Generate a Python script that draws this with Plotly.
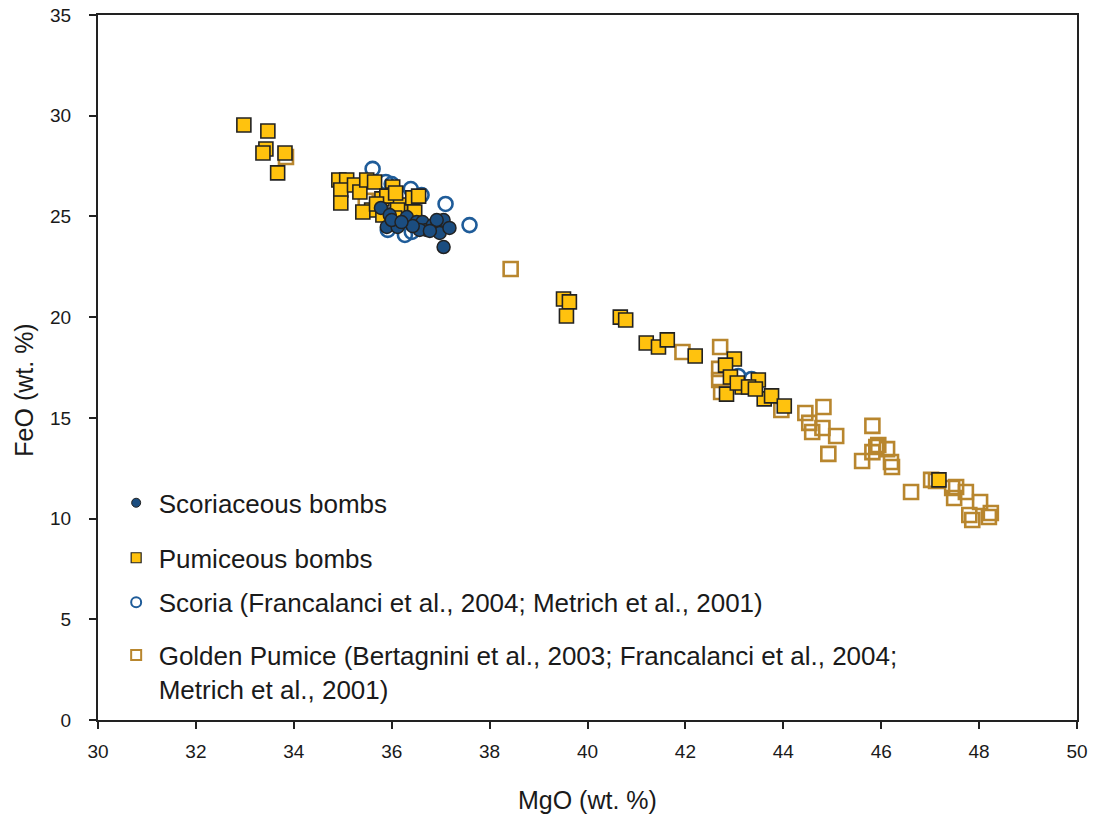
import plotly.graph_objects as go

# MgO / FeO (wt. %) for each sample population
scoriaceous_mgo = [35.78, 35.96, 35.90, 36.12, 36.00, 36.31, 36.51, 36.63, 36.71, 36.84,
                   36.98, 37.06, 37.18, 37.06, 36.57, 36.43, 36.20, 36.92, 36.78]
scoriaceous_feo = [25.42, 25.07, 24.48, 24.48, 24.82, 24.97, 24.72, 24.72, 24.33, 24.57,
                   24.18, 24.82, 24.43, 23.48, 24.33, 24.52, 24.72, 24.82, 24.28]

pumiceous_mgo = [32.98, 33.47, 33.43, 33.37, 33.82, 33.67,
                 34.92, 35.08, 34.96, 34.96, 35.24, 35.35, 35.49, 35.65, 36.02, 36.02,
                 35.80, 35.90, 36.18, 36.43, 36.55, 35.59, 35.82, 36.12, 36.47, 36.06,
                 35.41, 35.69, 36.08,
                 39.51, 39.63, 39.57, 40.67, 40.78, 41.20, 41.45, 41.63, 42.20, 43.00,
                 42.82, 42.92, 42.84, 43.16, 43.49, 43.61, 43.76, 44.02, 43.06, 43.29,
                 43.43, 47.18]
pumiceous_feo = [29.54, 29.24, 28.35, 28.15, 28.15, 27.16,
                 26.81, 26.81, 26.31, 25.67, 26.56, 26.21, 26.81, 26.71, 26.46, 26.06,
                 25.87, 26.01, 25.57, 25.92, 26.01, 25.32, 25.07, 25.32, 25.22, 24.92,
                 25.22, 25.62, 26.16,
                 20.90, 20.76, 20.06, 20.00, 19.86, 18.72, 18.52, 18.87, 18.07, 17.92,
                 17.62, 17.03, 16.18, 16.53, 16.88, 15.94, 16.09, 15.59, 16.73, 16.53,
                 16.43, 11.92]

scoria_mgo = [35.61, 35.88, 36.00, 36.39, 36.61, 37.10, 37.59, 36.27, 35.92, 36.41,
              43.08, 43.35]
scoria_feo = [27.36, 26.71, 26.61, 26.36, 26.06, 25.62, 24.57, 24.08, 24.33, 24.23,
              17.08, 16.93]

golden_mgo = [33.84, 35.47, 38.43, 41.94, 42.71, 42.69, 42.69, 42.73, 43.96, 44.45,
              44.82, 44.53, 44.59, 44.80, 45.08, 44.92, 45.82, 45.90, 45.94, 45.82,
              45.61, 46.12, 46.20, 46.22, 46.61, 47.02, 47.12, 47.53, 47.45, 47.49,
              47.73, 48.02, 47.80, 47.86, 48.24, 48.20]
golden_feo = [27.95, 25.77, 22.39, 18.27, 18.52, 17.43, 16.88, 16.28, 15.39, 15.24,
              15.54, 14.75, 14.30, 14.50, 14.10, 13.21, 14.60, 13.55, 13.65, 13.30,
              12.86, 13.45, 12.81, 12.56, 11.32, 11.92, 11.87, 11.57, 11.52, 11.02,
              11.32, 10.82, 10.18, 9.93, 10.28, 10.08]

x_ticks = [30, 32, 34, 36, 38, 40, 42, 44, 46, 48, 50]
y_ticks = [0, 5, 10, 15, 20, 25, 30, 35]

names = ["Scoriaceous bombs",
         "Pumiceous bombs",
         "Scoria (Francalanci et al., 2004; Metrich et al., 2001)",
         "Golden Pumice (Bertagnini et al., 2003; Francalanci et al., 2004;<br>Metrich et al., 2001)"]

BLUE_FILL = "#1b4d80"
GOLD_FILL = "#ffc20e"
SCORIA_LINE = "#1f5c99"
GOLDEN_LINE = "#b8862e"
EDGE = "#222222"
TEXT = "#1a1a1a"
FONT = "Liberation Sans, Arial, sans-serif"

fig = go.Figure()

# data layers, back to front
fig.add_trace(go.Scatter(x=golden_mgo, y=golden_feo, mode="markers", showlegend=False,
                         marker=dict(symbol="square-open", size=14, color=GOLDEN_LINE,
                                     line=dict(width=2.6, color=GOLDEN_LINE))))
fig.add_trace(go.Scatter(x=scoria_mgo, y=scoria_feo, mode="markers", showlegend=False,
                         marker=dict(symbol="circle-open", size=14, color=SCORIA_LINE,
                                     line=dict(width=2.6, color=SCORIA_LINE))))
fig.add_trace(go.Scatter(x=pumiceous_mgo, y=pumiceous_feo, mode="markers", showlegend=False,
                         marker=dict(symbol="square", size=14, color=GOLD_FILL,
                                     line=dict(width=1.6, color=EDGE))))
fig.add_trace(go.Scatter(x=scoriaceous_mgo, y=scoriaceous_feo, mode="markers", showlegend=False,
                         marker=dict(symbol="circle", size=13, color=BLUE_FILL,
                                     line=dict(width=1.5, color=EDGE))))

# legend entries (one legend box per entry so each row sits at its own height)
legend_styles = [
    dict(symbol="circle", size=9, color=BLUE_FILL, line=dict(width=1, color=EDGE)),
    dict(symbol="square", size=10, color=GOLD_FILL, line=dict(width=1.2, color=EDGE)),
    dict(symbol="circle-open", size=10, color=SCORIA_LINE, line=dict(width=2, color=SCORIA_LINE)),
    dict(symbol="square-open", size=10, color=GOLDEN_LINE, line=dict(width=2, color=GOLDEN_LINE)),
]
legend_ids = ["legend", "legend2", "legend3", "legend4"]
for name, style, lid in zip(names, legend_styles, legend_ids):
    fig.add_trace(go.Scatter(x=[None], y=[None], mode="markers", name=name,
                             marker=style, legend=lid))

legend_rows = [0.308, 0.230, 0.167, 0.068]
common = dict(x=0.016, xanchor="left", yanchor="middle", bgcolor="rgba(0,0,0,0)",
              font=dict(family=FONT, size=26, color=TEXT), itemsizing="trace",
              itemwidth=35, valign="top", tracegroupgap=0)
layout_legends = {lid: dict(y=yy, **common) for lid, yy in zip(legend_ids, legend_rows)}

axis_common = dict(showgrid=False, zeroline=False, showline=True, linecolor="#222222",
                   linewidth=2, mirror=True, ticks="outside", ticklen=7, tickwidth=2,
                   tickcolor="#222222", automargin=False,
                   tickfont=dict(family=FONT, size=19, color=TEXT))

fig.update_layout(
    width=1095, height=816,
    margin=dict(l=98, r=18, t=15, b=96),
    paper_bgcolor="white", plot_bgcolor="white",
    xaxis=dict(range=[30, 50], tickvals=x_ticks, ticklabelstandoff=6, **axis_common),
    yaxis=dict(range=[0, 35], tickvals=y_ticks, ticklabelstandoff=14, **axis_common),
    annotations=[
        dict(text="MgO (wt. %)", xref="paper", yref="paper", x=0.5, y=-0.113,
             xanchor="center", yanchor="middle", showarrow=False,
             font=dict(family=FONT, size=25, color=TEXT)),
        dict(text="FeO (wt. %)", textangle=-90, xref="paper", yref="paper",
             x=-0.076, y=0.468, xanchor="center", yanchor="middle",
             showarrow=False, font=dict(family=FONT, size=25, color=TEXT)),
    ],
    **layout_legends,
)

fig.write_html("out.html")
